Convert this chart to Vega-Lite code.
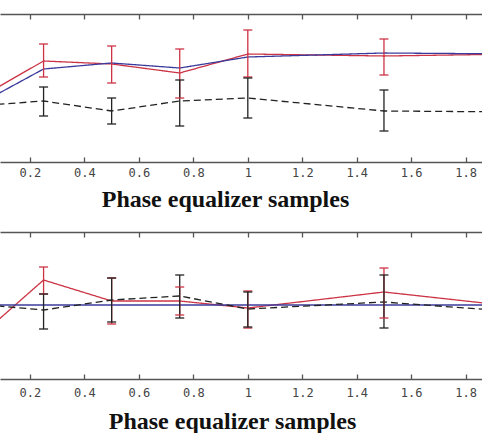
{
  "$schema": "https://vega.github.io/schema/vega-lite/v6.json",
  "padding": {"top": 13, "left": 0, "right": 0, "bottom": 0},
  "background": "white",
  "spacing": 20,
  "datasets": {
    "rows": [
      {"panel": "top", "series": "red", "x": 0, "y": 62},
      {"panel": "top", "series": "red", "x": 0.25, "y": 101, "lo": 85, "hi": 118},
      {"panel": "top", "series": "red", "x": 0.5, "y": 98, "lo": 79, "hi": 116},
      {"panel": "top", "series": "red", "x": 0.75, "y": 89, "lo": 64, "hi": 113},
      {"panel": "top", "series": "red", "x": 1, "y": 108, "lo": 85, "hi": 132},
      {"panel": "top", "series": "red", "x": 1.5, "y": 106, "lo": 87, "hi": 123},
      {"panel": "top", "series": "red", "x": 2, "y": 108},
      {"panel": "top", "series": "blue", "x": 0, "y": 56},
      {"panel": "top", "series": "blue", "x": 0.25, "y": 93},
      {"panel": "top", "series": "blue", "x": 0.5, "y": 99},
      {"panel": "top", "series": "blue", "x": 0.75, "y": 94},
      {"panel": "top", "series": "blue", "x": 1, "y": 105},
      {"panel": "top", "series": "blue", "x": 1.5, "y": 109},
      {"panel": "top", "series": "blue", "x": 2, "y": 108},
      {"panel": "top", "series": "black", "x": 0, "y": 56},
      {"panel": "top", "series": "black", "x": 0.25, "y": 61, "lo": 46, "hi": 75},
      {"panel": "top", "series": "black", "x": 0.5, "y": 51, "lo": 38, "hi": 64},
      {"panel": "top", "series": "black", "x": 0.75, "y": 61, "lo": 36, "hi": 82},
      {"panel": "top", "series": "black", "x": 1, "y": 64, "lo": 44, "hi": 84},
      {"panel": "top", "series": "black", "x": 1.5, "y": 51, "lo": 31, "hi": 72},
      {"panel": "top", "series": "black", "x": 2, "y": 50},
      {"panel": "bottom", "series": "red", "x": 0, "y": 39},
      {"panel": "bottom", "series": "red", "x": 0.25, "y": 99, "lo": 85, "hi": 112},
      {"panel": "bottom", "series": "red", "x": 0.5, "y": 78, "lo": 55, "hi": 101},
      {"panel": "bottom", "series": "red", "x": 0.75, "y": 78, "lo": 64, "hi": 92},
      {"panel": "bottom", "series": "red", "x": 1, "y": 71, "lo": 51, "hi": 88},
      {"panel": "bottom", "series": "red", "x": 1.5, "y": 87, "lo": 61, "hi": 111},
      {"panel": "bottom", "series": "red", "x": 2, "y": 72},
      {"panel": "bottom", "series": "blue", "x": 0, "y": 74},
      {"panel": "bottom", "series": "blue", "x": 0.25, "y": 74},
      {"panel": "bottom", "series": "blue", "x": 0.5, "y": 74},
      {"panel": "bottom", "series": "blue", "x": 0.75, "y": 74},
      {"panel": "bottom", "series": "blue", "x": 1, "y": 74},
      {"panel": "bottom", "series": "blue", "x": 1.5, "y": 74},
      {"panel": "bottom", "series": "blue", "x": 2, "y": 74},
      {"panel": "bottom", "series": "black", "x": 0, "y": 75},
      {"panel": "bottom", "series": "black", "x": 0.25, "y": 69, "lo": 50, "hi": 85},
      {"panel": "bottom", "series": "black", "x": 0.5, "y": 79, "lo": 57, "hi": 101},
      {"panel": "bottom", "series": "black", "x": 0.75, "y": 83, "lo": 61, "hi": 104},
      {"panel": "bottom", "series": "black", "x": 1, "y": 70, "lo": 52, "hi": 87},
      {"panel": "bottom", "series": "black", "x": 1.5, "y": 77, "lo": 51, "hi": 104},
      {"panel": "bottom", "series": "black", "x": 2, "y": 67}
    ]
  },
  "vconcat": [
    {
      "width": 482,
      "height": 148,
      "data": {"name": "rows"},
      "transform": [{"filter": "datum.panel === 'top'"}],
      "resolve": {"axis": {"x": "independent"}},
      "layer": [
        {
          "mark": {"type": "line", "clip": true, "strokeWidth": 1.3},
          "encoding": {
            "x": {"field": "x", "type": "quantitative", "scale": {"domain": [0.09, 1.86], "nice": false, "zero": false},
                  "axis": {"orient": "bottom", "title": "Phase equalizer samples", "titleX": 225, "labelPadding": 10, "titlePadding": 9, "values": [0.2, 0.4, 0.6, 0.8, 1, 1.2, 1.4, 1.6, 1.8], "format": "~g"}},
            "y": {"field": "y", "type": "quantitative", "scale": {"domain": [0, 148], "nice": false, "zero": false}, "axis": null},
            "color": {"field": "series", "type": "nominal", "scale": {"domain": ["red", "blue", "black"], "range": ["#cc3344", "#3a3a9c", "#222222"]}, "legend": null},
            "strokeDash": {"field": "series", "type": "nominal", "scale": {"domain": ["red", "blue", "black"], "range": [[1, 0], [1, 0], [7, 4]]}, "legend": null}
          }
        },
        {
          "transform": [{"filter": "isValid(datum.lo)"}],
          "mark": {"type": "rule", "clip": true, "strokeWidth": 1.3},
          "encoding": {
            "x": {"field": "x", "type": "quantitative", "axis": {"orient": "top", "labels": false, "title": null, "values": [0.2, 0.4, 0.6, 0.8, 1, 1.2, 1.4, 1.6, 1.8]}},
            "y": {"field": "lo", "type": "quantitative"},
            "y2": {"field": "hi"},
            "color": {"field": "series", "type": "nominal", "legend": null}
          }
        },
        {
          "transform": [{"filter": "isValid(datum.lo)"}],
          "mark": {"type": "tick", "orient": "horizontal", "size": 9, "thickness": 1.3, "clip": true, "opacity": 1},
          "encoding": {
            "x": {"field": "x", "type": "quantitative", "axis": null},
            "y": {"field": "lo", "type": "quantitative"},
            "color": {"field": "series", "type": "nominal", "legend": null}
          }
        },
        {
          "transform": [{"filter": "isValid(datum.hi)"}],
          "mark": {"type": "tick", "orient": "horizontal", "size": 9, "thickness": 1.3, "clip": true, "opacity": 1},
          "encoding": {
            "x": {"field": "x", "type": "quantitative", "axis": null},
            "y": {"field": "hi", "type": "quantitative"},
            "color": {"field": "series", "type": "nominal", "legend": null}
          }
        }
      ]
    },
    {
      "width": 482,
      "height": 147,
      "data": {"name": "rows"},
      "transform": [{"filter": "datum.panel === 'bottom'"}],
      "resolve": {"axis": {"x": "independent"}},
      "layer": [
        {
          "mark": {"type": "line", "clip": true, "strokeWidth": 1.3},
          "encoding": {
            "x": {"field": "x", "type": "quantitative", "scale": {"domain": [0.09, 1.86], "nice": false, "zero": false},
                  "axis": {"orient": "bottom", "title": "Phase equalizer samples", "titleX": 232, "labelPadding": 13, "titlePadding": 11, "values": [0.2, 0.4, 0.6, 0.8, 1, 1.2, 1.4, 1.6, 1.8], "format": "~g"}},
            "y": {"field": "y", "type": "quantitative", "scale": {"domain": [0, 147], "nice": false, "zero": false}, "axis": null},
            "color": {"field": "series", "type": "nominal", "scale": {"domain": ["red", "blue", "black"], "range": ["#cc3344", "#3a3a9c", "#222222"]}, "legend": null},
            "strokeDash": {"field": "series", "type": "nominal", "scale": {"domain": ["red", "blue", "black"], "range": [[1, 0], [1, 0], [7, 4]]}, "legend": null}
          }
        },
        {
          "transform": [{"filter": "isValid(datum.lo)"}],
          "mark": {"type": "rule", "clip": true, "strokeWidth": 1.3},
          "encoding": {
            "x": {"field": "x", "type": "quantitative", "axis": {"orient": "top", "labels": false, "title": null, "values": [0.2, 0.4, 0.6, 0.8, 1, 1.2, 1.4, 1.6, 1.8]}},
            "y": {"field": "lo", "type": "quantitative"},
            "y2": {"field": "hi"},
            "color": {"field": "series", "type": "nominal", "legend": null}
          }
        },
        {
          "transform": [{"filter": "isValid(datum.lo)"}],
          "mark": {"type": "tick", "orient": "horizontal", "size": 9, "thickness": 1.3, "clip": true, "opacity": 1},
          "encoding": {
            "x": {"field": "x", "type": "quantitative", "axis": null},
            "y": {"field": "lo", "type": "quantitative"},
            "color": {"field": "series", "type": "nominal", "legend": null}
          }
        },
        {
          "transform": [{"filter": "isValid(datum.hi)"}],
          "mark": {"type": "tick", "orient": "horizontal", "size": 9, "thickness": 1.3, "clip": true, "opacity": 1},
          "encoding": {
            "x": {"field": "x", "type": "quantitative", "axis": null},
            "y": {"field": "hi", "type": "quantitative"},
            "color": {"field": "series", "type": "nominal", "legend": null}
          }
        }
      ]
    }
  ],
  "config": {
    "view": {"stroke": null},
    "axis": {
      "grid": false,
      "domainColor": "#555555",
      "domainWidth": 1.5,
      "tickColor": "#555555",
      "tickWidth": 1.3,
      "tickSize": -5,
      "labelFont": "DejaVu Sans Mono",
      "labelFontSize": 12,
      "labelColor": "#444444",
      "titleFont": "Liberation Serif",
      "titleFontSize": 24,
      "titleFontWeight": "bold",
      "titleColor": "#111111"
    }
  }
}
